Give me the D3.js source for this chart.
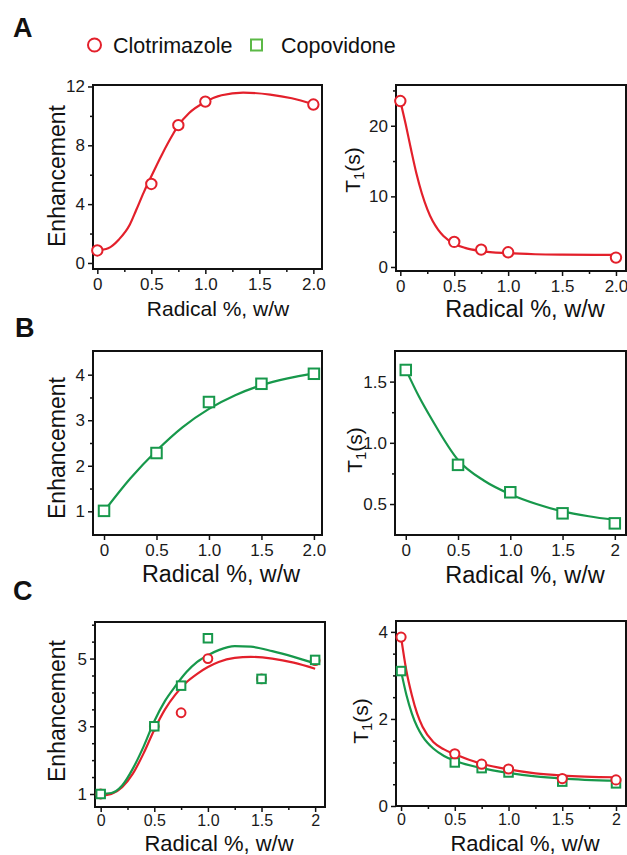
<!DOCTYPE html>
<html>
<head>
<meta charset="utf-8">
<script src="https://cdn.jsdelivr.net/npm/d3@7"></script>
<style>
  body { margin: 0; background: #fff; }
  svg { font-family: "Liberation Sans", Arial, Helvetica, sans-serif; }
</style>
</head>
<body>
<svg id="chart" width="627" height="855"></svg>
<script>
// ---- data ----
var seriesNames = ["Clotrimazole", "Copovidone"];

// A: clotrimazole only
var radA = [0, 0.5, 0.75, 1.0, 2.0];
var enhA_clot = [0.85, 5.37, 9.37, 10.97, 10.77];
var t1A_clot = [23.5, 3.55, 2.46, 2.08, 1.33];

// B: copovidone only
var radB = [0, 0.5, 1.0, 1.5, 2.0];
var enhB_copo = [1.01, 2.28, 3.40, 3.80, 4.02];
var t1B_copo = [1.595, 0.82, 0.596, 0.424, 0.342];

// C: both
var radC = [0, 0.5, 0.75, 1.0, 1.5, 2.0];
var enhC_clot = [1.0, 3.0, 3.4, 5.0, 4.4, 4.94];
var enhC_copo = [1.0, 3.0, 4.2, 5.6, 4.4, 4.96];
var t1C_clot = [3.88, 1.2, 0.96, 0.85, 0.63, 0.60];
var t1C_copo = [3.1, 1.0, 0.87, 0.77, 0.56, 0.52];

// fitted curves (read as points along each drawn line)
var fitA_enh_x = [0, 0.1, 0.2, 0.3, 0.36, 0.43, 0.5, 0.6, 0.7, 0.75, 0.85, 1.0, 1.15, 1.35, 1.6, 1.8, 2.0];
var fitA_enh_y = [0.85, 1.0, 1.6, 2.6, 3.6, 4.8, 5.9, 7.4, 8.75, 9.35, 10.2, 10.95, 11.4, 11.58, 11.45, 11.2, 10.8];
var fitA_t1_x = [0, 0.05, 0.1, 0.15, 0.2, 0.25, 0.3, 0.35, 0.4, 0.5, 0.6, 0.75, 1.0, 1.25, 1.5, 2.0];
var fitA_t1_y = [23.5, 20.2, 16.6, 13.2, 10.4, 8.2, 6.5, 5.3, 4.4, 3.3, 2.7, 2.25, 1.95, 1.8, 1.74, 1.7];
var fitB_enh_x = [0, 0.25, 0.5, 0.75, 1.0, 1.25, 1.5, 1.75, 2.0];
var fitB_enh_y = [1.0, 1.72, 2.33, 2.85, 3.25, 3.55, 3.77, 3.92, 4.03];
var fitB_t1_x = [0, 0.125, 0.25, 0.5, 0.75, 1.0, 1.25, 1.5, 1.75, 2.0];
var fitB_t1_y = [1.6, 1.38, 1.19, 0.86, 0.69, 0.58, 0.5, 0.44, 0.4, 0.37];
var fitC_enh_x = [0, 0.1, 0.2, 0.3, 0.4, 0.5, 0.6, 0.7, 0.8, 0.9, 1.0, 1.1, 1.25, 1.4, 1.6, 1.8, 2.0];
var fitC_enh_clot = [0.95, 1.0, 1.2, 1.6, 2.2, 2.9, 3.5, 3.95, 4.3, 4.55, 4.75, 4.9, 5.02, 5.05, 5.0, 4.88, 4.7];
var fitC_enh_copo = [1.0, 1.03, 1.25, 1.75, 2.4, 3.15, 3.75, 4.2, 4.6, 4.9, 5.1, 5.25, 5.37, 5.35, 5.22, 5.05, 4.85];
var fitC_t1_x = [0, 0.05, 0.1, 0.15, 0.2, 0.3, 0.4, 0.5, 0.75, 1.0, 1.25, 1.5, 2.0];
var fitC_t1_clot = [3.88, 3.1, 2.55, 2.12, 1.82, 1.47, 1.3, 1.19, 0.97, 0.84, 0.75, 0.7, 0.66];
var fitC_t1_copo = [3.1, 2.55, 2.13, 1.82, 1.6, 1.32, 1.15, 1.04, 0.87, 0.76, 0.68, 0.63, 0.58];

// tick values and labels
var xTicks = [0, 0.5, 1.0, 1.5, 2.0];
var xLabels20 = ["0", "0.5", "1.0", "1.5", "2.0"];
var xLabels2 = ["0", "0.5", "1.0", "1.5", "2"];
var xMinor = [0.25, 0.75, 1.25, 1.75];
var yTicksA_enh = [0, 4, 8, 12], yMinorA_enh = [2, 6, 10];
var yTicksA_t1 = [0, 10, 20], yMinorA_t1 = [5, 15, 25];
var yTicksB_enh = [1, 2, 3, 4], yMinorB_enh = [1.5, 2.5, 3.5];
var yTicksB_t1 = [0.5, 1.0, 1.5], yLabelsB_t1 = ["0.5", "1.0", "1.5"], yMinorB_t1 = [0.75, 1.25];
var yTicksC_enh = [1, 3, 5], yMinorC_enh = [1.5, 2, 2.5, 3.5, 4, 4.5, 5.5, 6];
var yTicksC_t1 = [0, 2, 4], yMinorC_t1 = [0.5, 1, 1.5, 2.5, 3, 3.5];

var RED = "#e3202b", GREEN = "#17984b", GREEN_LEG = "#5cb947";

var svg = d3.select("#chart");

function zip(xs, ys) { return xs.map(function (v, i) { return [v, ys[i]]; }); }

function drawPanel(cfg) {
    var g = svg.append("g");
    var x = d3.scaleLinear().domain(cfg.xd).range([cfg.box[0], cfg.box[2]]);
    var y = d3.scaleLinear().domain(cfg.yd).range([cfg.box[3], cfg.box[1]]);
    var fs = cfg.tickFont || 17;
    var clipId = "clip" + cfg.id;
    svg.append("clipPath").attr("id", clipId).append("rect")
        .attr("x", cfg.box[0]).attr("y", cfg.box[1])
        .attr("width", cfg.box[2] - cfg.box[0]).attr("height", cfg.box[3] - cfg.box[1]);

    // axes
    if (cfg.xMinor) {
        g.append("g").attr("transform", "translate(0," + cfg.box[3] + ")")
            .call(d3.axisBottom(x).tickValues(cfg.xMinor).tickSize(3).tickFormat(""));
    }
    g.append("g").attr("class", "xmaj").attr("transform", "translate(0," + cfg.box[3] + ")")
        .call(d3.axisBottom(x).tickValues(xTicks).tickSize(5).tickPadding(cfg.tickFont ? 3 : 4)
            .tickFormat(function (d, i) { return cfg.xLabels[i]; }));
    g.append("g").attr("transform", "translate(" + cfg.box[0] + ",0)")
        .call(d3.axisLeft(y).tickValues(cfg.yMinor).tickSize(3).tickFormat(""));
    g.append("g").attr("transform", "translate(" + cfg.box[0] + ",0)")
        .call(d3.axisLeft(y).tickValues(cfg.yTicks).tickSize(5).tickPadding(3)
            .tickFormat(function (d, i) { return cfg.yLabels ? cfg.yLabels[i] : String(d); }));
    g.selectAll(".domain").remove();
    g.selectAll(".tick line").attr("stroke", "#111").attr("stroke-width", 1.5);
    g.selectAll(".tick text").attr("font-size", 17).attr("fill", "#1a1a1a")
        .attr("font-family", "Liberation Sans, Arial, sans-serif");
    g.selectAll(".xmaj .tick text").attr("font-size", fs);

    // frame
    g.append("rect").attr("x", cfg.box[0]).attr("y", cfg.box[1])
        .attr("width", cfg.box[2] - cfg.box[0]).attr("height", cfg.box[3] - cfg.box[1])
        .attr("fill", "none").attr("stroke", "#111").attr("stroke-width", 2);

    // fit lines
    var line = d3.line().x(function (d) { return x(d[0]); }).y(function (d) { return y(d[1]); })
        .curve(d3.curveMonotoneX);
    cfg.fits.forEach(function (f) {
        g.append("path").datum(zip(f.x, f.y)).attr("d", line)
            .attr("clip-path", "url(#" + clipId + ")")
            .attr("fill", "none").attr("stroke", f.color).attr("stroke-width", 2.2);
    });

    // markers
    cfg.marks.forEach(function (m) {
        var pts = zip(m.x, m.y);
        if (m.shape === "circle") {
            g.selectAll(null).data(pts).enter().append("circle")
                .attr("cx", function (d) { return x(d[0]); })
                .attr("cy", function (d) { return y(d[1]); })
                .attr("r", m.size).attr("fill", "#fff")
                .attr("stroke", RED).attr("stroke-width", 2);
        } else {
            g.selectAll(null).data(pts).enter().append("rect")
                .attr("x", function (d) { return x(d[0]) - m.size / 2; })
                .attr("y", function (d) { return y(d[1]) - m.size / 2; })
                .attr("width", m.size).attr("height", m.size).attr("fill", "#fff")
                .attr("stroke", GREEN).attr("stroke-width", 2);
        }
    });

    // axis titles
    g.append("text").attr("x", cfg.xt[0]).attr("y", cfg.xt[1]).attr("text-anchor", "middle")
        .attr("font-size", cfg.xt[2]).attr("fill", "#111").text("Radical %, w/w");
    var yt = g.append("text")
        .attr("transform", "translate(" + cfg.yt[0] + "," + cfg.yt[1] + ") rotate(-90)")
        .attr("text-anchor", "middle").attr("fill", "#111");
    if (cfg.kind === "enh") {
        yt.attr("font-size", 23).text("Enhancement");
    } else {
        yt.attr("font-size", 21);
        yt.append("tspan").text("T");
        yt.append("tspan").attr("font-size", 15).attr("dy", 4).text("1");
        yt.append("tspan").attr("dy", -4).text("(s)");
    }
}

var panels = [
    { id: "Al", kind: "enh", box: [93, 85, 322, 269], xd: [-0.04, 2.08], yd: [-0.41, 12.1],
      xLabels: xLabels20, xMinor: xMinor, yTicks: yTicksA_enh, yMinor: yMinorA_enh,
      fits: [{ x: fitA_enh_x, y: fitA_enh_y, color: RED }],
      marks: [{ shape: "circle", x: radA, y: enhA_clot, size: 5.2 }],
      xt: [218, 316, 21], yt: [65, 176] },
    { id: "Ar", kind: "t1", box: [396, 85, 626, 271], xd: [-0.04, 2.093], yd: [-0.57, 25.77],
      xLabels: xLabels20, xMinor: xMinor, yTicks: yTicksA_t1, yMinor: yMinorA_t1,
      fits: [{ x: fitA_t1_x, y: fitA_t1_y, color: RED }],
      marks: [{ shape: "circle", x: radA, y: t1A_clot, size: 5.2 }],
      xt: [525, 317, 23.5], yt: [360, 170] },
    { id: "Bl", kind: "enh", box: [93, 351, 322, 535], xd: [-0.105, 2.077], yd: [0.48, 4.52],
      xLabels: xLabels20, xMinor: null, yTicks: yTicksB_enh, yMinor: yMinorB_enh,
      fits: [{ x: fitB_enh_x, y: fitB_enh_y, color: GREEN }],
      marks: [{ shape: "square", x: radB, y: enhB_copo, size: 10.5 }],
      xt: [221, 582, 23.3], yt: [65, 448] },
    { id: "Br", kind: "t1", box: [395, 351, 626, 535], xd: [-0.103, 2.107], yd: [0.247, 1.75],
      xLabels: xLabels2, xMinor: null, yTicks: yTicksB_t1, yLabels: yLabelsB_t1, yMinor: yMinorB_t1,
      fits: [{ x: fitB_t1_x, y: fitB_t1_y, color: GREEN }],
      marks: [{ shape: "square", x: radB, y: t1B_copo, size: 10.5 }],
      xt: [525, 583, 23.5], yt: [362, 450] },
    { id: "Cl", kind: "enh", box: [95, 622, 325, 807], xd: [-0.053, 2.092], yd: [0.616, 6.08],
      xLabels: xLabels2, xMinor: xMinor, yTicks: yTicksC_enh, yMinor: yMinorC_enh, tickFont: 16,
      fits: [{ x: fitC_enh_x, y: fitC_enh_clot, color: RED }, { x: fitC_enh_x, y: fitC_enh_copo, color: GREEN }],
      marks: [{ shape: "circle", x: radC, y: enhC_clot, size: 4.4 },
              { shape: "square", x: radC, y: enhC_copo, size: 8.5 }],
      xt: [219, 850.5, 22], yt: [65, 711] },
    { id: "Cr", kind: "t1", box: [396, 621, 626, 806], xd: [-0.047, 2.093], yd: [0, 4.25],
      xLabels: xLabels2, xMinor: xMinor, yTicks: yTicksC_t1, yMinor: yMinorC_t1, tickFont: 16,
      fits: [{ x: fitC_t1_x, y: fitC_t1_clot, color: RED }, { x: fitC_t1_x, y: fitC_t1_copo, color: GREEN }],
      marks: [{ shape: "square", x: radC, y: t1C_copo, size: 8.5 },
              { shape: "circle", x: radC, y: t1C_clot, size: 4.6 }],
      xt: [525, 850.5, 22], yt: [368, 721] }
];

panels.forEach(drawPanel);

// panel letters
[["A", 13, 37], ["B", 15, 337], ["C", 13, 600]].forEach(function (p) {
    svg.append("text").attr("x", p[1]).attr("y", p[2]).attr("font-size", 27)
        .attr("font-weight", "bold").attr("fill", "#111").text(p[0]);
});

// legend
var leg = svg.append("g");
leg.append("circle").attr("cx", 94.5).attr("cy", 45).attr("r", 6.5)
    .attr("fill", "#fff").attr("stroke", RED).attr("stroke-width", 2);
leg.append("text").attr("x", 113).attr("y", 52.5).attr("font-size", 21.5).attr("fill", "#111")
    .text(seriesNames[0]);
leg.append("rect").attr("x", 251).attr("y", 39.5).attr("width", 11).attr("height", 11)
    .attr("fill", "#fff").attr("stroke", GREEN_LEG).attr("stroke-width", 2);
leg.append("text").attr("x", 281).attr("y", 52.5).attr("font-size", 21.5).attr("fill", "#111")
    .text(seriesNames[1]);
</script>
</body>
</html>
